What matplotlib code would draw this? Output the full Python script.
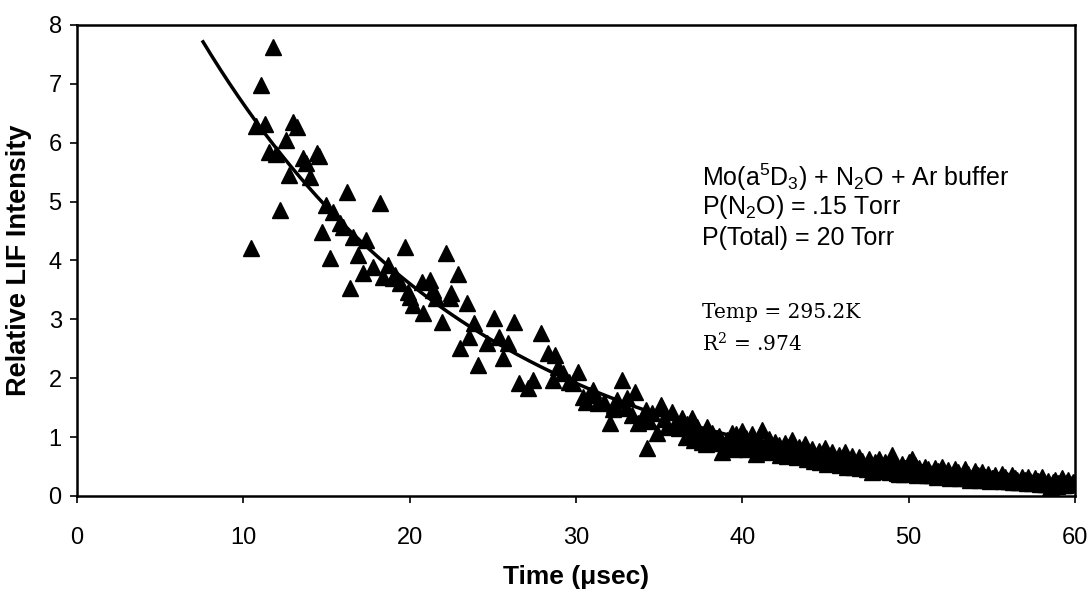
import numpy as np
import matplotlib
matplotlib.use("Agg")
import matplotlib.pyplot as plt

# ---- data ----
time_us = [10.46, 10.76, 11.06, 11.3, 11.55, 11.8, 11.97, 12.2, 12.57, 12.75,
           13.0, 13.2, 13.6, 13.77, 14.0, 14.43, 14.55, 14.73, 14.97, 15.2,
           15.4, 15.8, 16.0, 16.24, 16.4, 16.6, 16.9, 17.2, 17.4, 17.8,
           18.2, 18.4, 18.7, 19.0, 19.1, 19.4, 19.7, 19.9, 20.05, 20.2,
           20.75, 20.8, 21.2, 21.4, 21.6, 21.95, 22.2, 22.4, 22.5, 22.9,
           23.0, 23.45, 23.6, 23.9, 24.1, 24.65, 25.1, 25.4, 25.6, 25.9,
           26.3, 26.6, 27.1, 27.4, 27.9, 28.3, 28.6, 28.75, 28.9, 29.2,
           29.6, 29.8, 30.1, 30.4, 30.6, 30.8, 31.0, 31.3, 31.7, 32.05,
           32.2, 32.3, 32.5, 32.8, 33.0, 33.1, 33.4, 33.55, 33.75, 34.0,
           34.2, 34.3, 34.4, 34.6, 34.9, 35.1, 35.2, 35.3, 35.5, 35.8,
           36.0, 36.2, 36.4, 36.6, 36.7, 36.9, 37.0, 37.1, 37.3, 37.5,
           37.6, 37.8, 37.9, 38.0, 38.2, 38.3, 38.5, 38.6, 38.8, 39.0,
           39.1, 39.3, 39.4, 39.5, 39.7, 39.9,
           39.6, 39.8, 40.0, 40.2, 40.4, 40.6, 40.8, 41.0, 41.2, 41.4,
           41.6, 41.8, 42.0, 42.2, 42.4, 42.6, 42.8, 43.0, 43.2, 43.4,
           43.6, 43.8, 44.0, 44.2, 44.4, 44.6, 44.8, 45.0, 45.2, 45.4,
           45.6, 45.8, 46.0, 46.2, 46.4, 46.6, 46.8, 47.0, 47.2, 47.4,
           47.6, 47.8, 48.0, 48.2, 48.4, 48.6, 48.8, 49.0, 49.2, 49.4,
           49.6, 49.8, 50.0, 50.2, 50.4, 50.6, 50.8, 51.0, 51.2, 51.4,
           51.6, 51.8, 52.0, 52.2, 52.4, 52.6, 52.8, 53.0, 53.2, 53.4,
           53.6, 53.8, 54.0, 54.2, 54.4, 54.6, 54.8, 55.0, 55.2, 55.4,
           55.6, 55.8, 56.0, 56.2, 56.4, 56.6, 56.8, 57.0, 57.2, 57.4,
           57.6, 57.8, 58.0, 58.2, 58.4, 58.6, 58.8, 59.0, 59.2, 59.4,
           59.6, 59.8, 60.0]

lif_intensity = [4.21, 6.28, 6.98, 6.32, 5.84, 7.62, 5.81, 4.86, 6.04, 5.45,
                 6.35, 6.26, 5.74, 5.65, 5.42, 5.82, 5.77, 4.48, 4.94, 4.04,
                 4.82, 4.63, 4.57, 5.16, 3.53, 4.40, 4.09, 3.79, 4.35, 3.89,
                 4.97, 3.72, 3.92, 3.70, 3.75, 3.62, 4.23, 3.46, 3.38, 3.24,
                 3.63, 3.11, 3.67, 3.50, 3.36, 2.95, 4.13, 3.36, 3.45, 3.77,
                 2.51, 3.28, 2.70, 2.94, 2.22, 2.60, 3.02, 2.70, 2.34, 2.60,
                 2.95, 1.92, 1.83, 1.97, 2.77, 2.43, 1.97, 2.39, 2.19, 2.09,
                 1.94, 1.92, 2.11, 1.68, 1.60, 1.72, 1.80, 1.58, 1.60, 1.24,
                 1.48, 1.54, 1.63, 1.97, 1.50, 1.66, 1.38, 1.77, 1.24, 1.30,
                 1.46, 0.81, 1.28, 1.41, 1.07, 1.54, 1.49, 1.30, 1.17, 1.43,
                 1.25, 1.15, 1.32, 1.00, 1.22, 1.10, 1.32, 0.95, 1.17, 1.05,
                 0.92, 0.88, 1.17, 0.97, 1.07, 0.90, 0.98, 1.02, 0.75, 0.85,
                 0.95, 0.88, 1.07, 0.80, 0.96, 0.86,
                 1.05, 0.93, 1.10, 0.98, 0.90, 1.06, 0.72, 0.95, 1.12, 0.88,
                 0.97, 0.80, 0.92, 0.86, 0.74, 0.90, 0.83, 0.95, 0.70, 0.84,
                 0.78, 0.88, 0.72, 0.80, 0.62, 0.77, 0.70, 0.82, 0.66, 0.74,
                 0.58, 0.70, 0.64, 0.75, 0.60, 0.68, 0.55, 0.66, 0.60, 0.50,
                 0.63, 0.40, 0.57, 0.62, 0.52, 0.58, 0.47, 0.70, 0.52, 0.38,
                 0.55, 0.48, 0.58, 0.62, 0.52, 0.47, 0.40, 0.50, 0.45, 0.36,
                 0.48, 0.42, 0.50, 0.38, 0.44, 0.35, 0.46, 0.40, 0.33, 0.45,
                 0.38, 0.30, 0.42, 0.36, 0.40, 0.32, 0.38, 0.30, 0.36, 0.28,
                 0.38, 0.32, 0.26, 0.35, 0.30, 0.24, 0.33, 0.28, 0.32, 0.22,
                 0.30, 0.25, 0.33, 0.20, 0.26, 0.10, 0.28, 0.22, 0.30, 0.18,
                 0.27, 0.20, 0.24]

# lower edge of the dense tail (points between the ones above)
time_us_tail = [40.1, 40.3, 40.5, 40.7, 40.9, 41.1, 41.3, 41.5, 41.7, 41.9,
                42.1, 42.3, 42.5, 42.7, 42.9, 43.1, 43.3, 43.5, 43.7, 43.9,
                44.1, 44.3, 44.5, 44.7, 44.9, 45.1, 45.3, 45.5, 45.7, 45.9,
                46.1, 46.3, 46.5, 46.7, 46.9, 47.1, 47.3, 47.5, 47.7, 47.9,
                48.1, 48.3, 48.5, 48.7, 48.9, 49.1, 49.3, 49.5, 49.7, 49.9,
                50.1, 50.3, 50.5, 50.7, 50.9, 51.1, 51.3, 51.5, 51.7, 51.9,
                52.1, 52.3, 52.5, 52.7, 52.9, 53.1, 53.3, 53.5, 53.7, 53.9,
                54.1, 54.3, 54.5, 54.7, 54.9, 55.1, 55.3, 55.5, 55.7, 55.9,
                56.1, 56.3, 56.5, 56.7, 56.9, 57.1, 57.3, 57.5, 57.7, 57.9,
                58.1, 58.3, 58.5, 58.7, 58.9, 59.1, 59.3, 59.5, 59.7, 59.9]
lif_intensity_tail = [0.85, 0.80, 0.92, 0.84, 0.88, 0.78, 0.84, 0.74, 0.86, 0.76,
                      0.80, 0.70, 0.78, 0.68, 0.74, 0.80, 0.66, 0.72, 0.68, 0.62,
                      0.68, 0.60, 0.66, 0.58, 0.62, 0.55, 0.60, 0.56, 0.62, 0.52,
                      0.56, 0.50, 0.55, 0.49, 0.53, 0.47, 0.51, 0.45, 0.49, 0.47,
                      0.43, 0.48, 0.42, 0.46, 0.40, 0.45, 0.39, 0.46, 0.38, 0.43,
                      0.40, 0.42, 0.36, 0.41, 0.38, 0.35, 0.39, 0.36, 0.33, 0.37,
                      0.34, 0.36, 0.31, 0.35, 0.32, 0.30, 0.34, 0.31, 0.28, 0.32,
                      0.29, 0.27, 0.31, 0.28, 0.26, 0.30, 0.27, 0.29, 0.25, 0.28,
                      0.26, 0.23, 0.27, 0.24, 0.26, 0.22, 0.25, 0.23, 0.26, 0.21,
                      0.24, 0.21, 0.14, 0.23, 0.17, 0.22, 0.19, 0.24, 0.20, 0.23]

# fitted decay curve parameters (y = A*exp(-k t) + c)
fit_A, fit_k, fit_c = 12.36, 0.059, -0.19
fit_t_start, fit_t_end = 7.58, 60.0

x_ticks = [0, 10, 20, 30, 40, 50, 60]
y_ticks = [0, 1, 2, 3, 4, 5, 6, 7, 8]

# ---- figure ----
plt.rcParams['font.family'] = ['Liberation Sans', 'DejaVu Sans']
plt.rcParams['mathtext.default'] = 'regular'
fig = plt.figure(figsize=(10.89, 5.94), dpi=100)
ax = fig.add_axes([0.0707, 0.165, 0.9163, 0.793])

ax.plot(time_us, lif_intensity, linestyle='none', marker='^', color='black',
        markersize=11, zorder=3)
ax.plot(time_us_tail, lif_intensity_tail, linestyle='none', marker='^', color='black',
        markersize=11, zorder=3)

t_fit = np.linspace(fit_t_start, fit_t_end, 300)
ax.plot(t_fit, fit_A * np.exp(-fit_k * t_fit) + fit_c, color='black', lw=2.5, zorder=2)

ax.set_xlim(0, 60)
ax.set_ylim(0, 8)
ax.set_xticks(x_ticks)
ax.set_yticks(y_ticks)
ax.tick_params(axis='both', direction='out', length=5, width=1.2, labelsize=17,
               colors='black')
ax.tick_params(axis='x', pad=17)
ax.tick_params(axis='y', pad=6)
for sp in ax.spines.values():
    sp.set_linewidth(1.8)
    sp.set_color('black')

ax.set_xlabel('Time (\u03bcsec)', fontsize=19, fontweight='bold', labelpad=12)
ax.set_ylabel('Relative LIF Intensity', fontsize=19.5, fontweight='bold', labelpad=12)

ax.text(37.6, 5.42, r'Mo(a$^{5}$D$_{3}$) + N$_{2}$O + Ar buffer', fontsize=18,
        va='center', ha='left')
ax.text(37.6, 4.90, r'P(N$_{2}$O) = .15 Torr', fontsize=18, va='center', ha='left')
ax.text(37.6, 4.39, 'P(Total) = 20 Torr', fontsize=18, va='center', ha='left')
ax.text(37.6, 3.12, 'Temp = 295.2K', fontsize=14.5, va='center', ha='left',
        family=['DejaVu Serif'])
ax.text(37.6, 2.58, r'R$^{2}$ = .974', fontsize=14.5, va='center', ha='left',
        family=['DejaVu Serif'])

fig.savefig('out.png', dpi=100)
